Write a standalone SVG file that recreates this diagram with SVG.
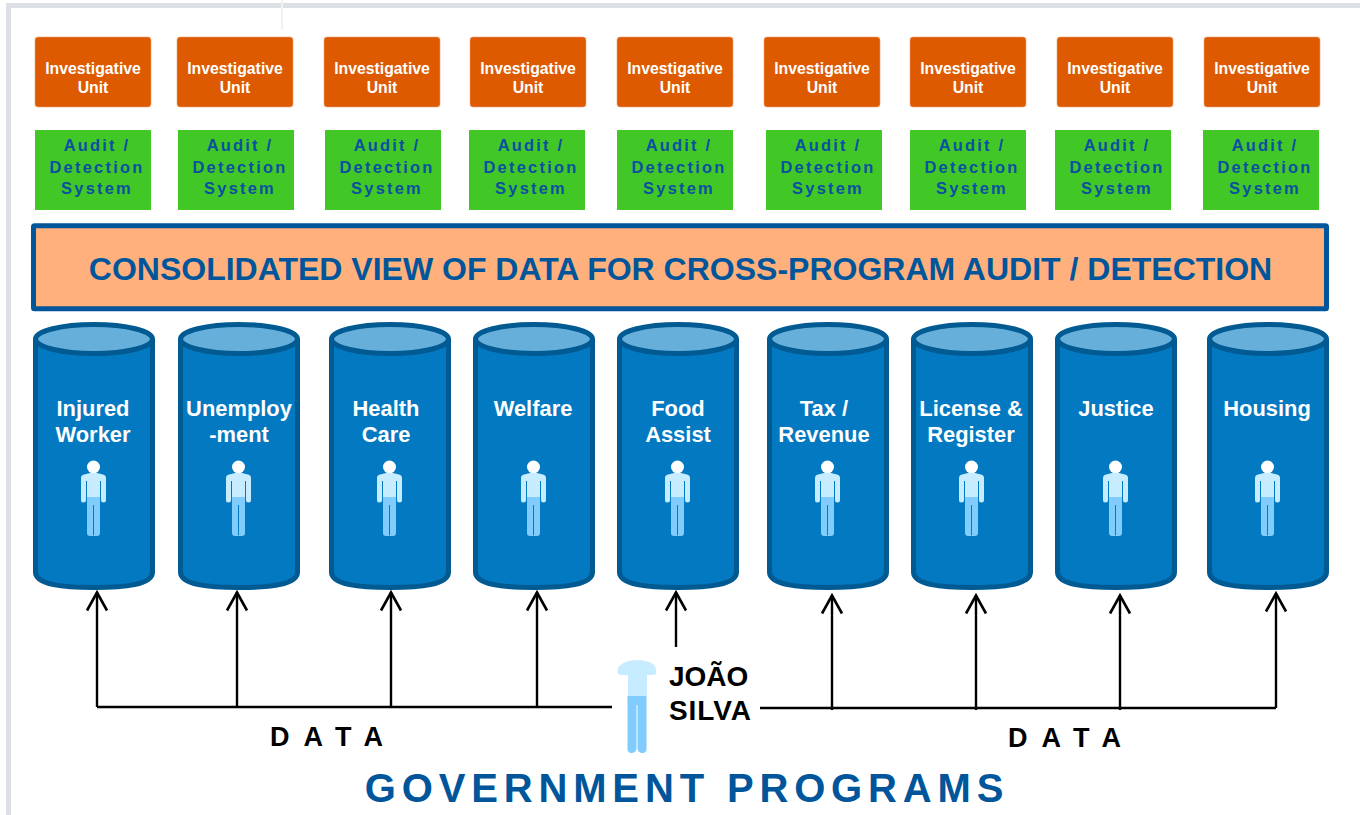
<svg xmlns="http://www.w3.org/2000/svg" width="1360" height="815" viewBox="0 0 1360 815">
<style>
text{font-family:"Liberation Sans",Arial,sans-serif;font-weight:700;text-anchor:middle}
.inv{fill:#dd5a00;stroke:#f0a070;stroke-width:.6}
.invt{fill:#fff;font-size:15.8px}
.aud{fill:#41c827}
.audt{fill:#0b50a0;font-size:16.5px;letter-spacing:2.2px}
.cylb{fill:#0379c1;stroke:#015a92;stroke-width:5}
.cylt{fill:#66afdb;stroke:#015a92;stroke-width:5}
.cylx{fill:#fff;font-size:21.9px}
.con{fill:none;stroke:#000;stroke-width:2.4}
.dat{fill:#000;font-size:27px;text-anchor:start;letter-spacing:14px}
.jo{fill:#000;font-size:28px;text-anchor:start}
</style>
<defs>
<g id="person">
<circle cx="0" cy="-66" r="6.5" fill="#fff"/>
<path d="M-12.500-55q0-3 3-3.500l6-1.500h7l6 1.500q3 .5 3 3.500v22a2.500 2.500 0 0 1-5 0v-19h-1v16h-13v-16h-1v19a2.500 2.500 0 0 1-5 0z" fill="#c8ecff"/>
<path d="M-6.500-36h13v36a3 3 0 0 1-3 3h-2a2.500 2.500 0 0 1-1.500-.5a2.500 2.500 0 0 1-1.500.5h-2a3 3 0 0 1-3-3z" fill="#80ccfc"/>
<path d="M0-28v30" stroke="#0379c1" stroke-width="1"/>
</g>
<g id="cyl">
<path class="cylb" d="M-58.500 17V250C-58.500 263-30 265.500 0 265.500S58.500 263 58.500 250V17"/>
<ellipse class="cylt" cx="0" cy="17" rx="58.500" ry="14.500"/>
</g>
<marker id="ah" markerUnits="userSpaceOnUse" markerWidth="24" markerHeight="22" refX="11" refY="1.500" orient="0" overflow="visible">
<path d="M1 20L11 2L21 20" fill="none" stroke="#000" stroke-width="2.600"/>
</marker>
</defs>
<rect width="1360" height="815" fill="#fff"/>
<path d="M1360 5.500H8.500V815" fill="none" stroke="#dde1e5" stroke-width="5"/>
<path d="M282 0V30" stroke="#f1f2f4" stroke-width="2" fill="none"/>

<g id="inv1"><rect class="inv" x="35" y="37" width="116" height="70" rx="3"/><text class="invt" x="93" y="74">Investigative</text><text class="invt" x="93" y="93">Unit</text></g>
<g id="inv2"><rect class="inv" x="177" y="37" width="116" height="70" rx="3"/><text class="invt" x="235" y="74">Investigative</text><text class="invt" x="235" y="93">Unit</text></g>
<g id="inv3"><rect class="inv" x="324" y="37" width="116" height="70" rx="3"/><text class="invt" x="382" y="74">Investigative</text><text class="invt" x="382" y="93">Unit</text></g>
<g id="inv4"><rect class="inv" x="470" y="37" width="116" height="70" rx="3"/><text class="invt" x="528" y="74">Investigative</text><text class="invt" x="528" y="93">Unit</text></g>
<g id="inv5"><rect class="inv" x="617" y="37" width="116" height="70" rx="3"/><text class="invt" x="675" y="74">Investigative</text><text class="invt" x="675" y="93">Unit</text></g>
<g id="inv6"><rect class="inv" x="764" y="37" width="116" height="70" rx="3"/><text class="invt" x="822" y="74">Investigative</text><text class="invt" x="822" y="93">Unit</text></g>
<g id="inv7"><rect class="inv" x="910" y="37" width="116" height="70" rx="3"/><text class="invt" x="968" y="74">Investigative</text><text class="invt" x="968" y="93">Unit</text></g>
<g id="inv8"><rect class="inv" x="1057" y="37" width="116" height="70" rx="3"/><text class="invt" x="1115" y="74">Investigative</text><text class="invt" x="1115" y="93">Unit</text></g>
<g id="inv9"><rect class="inv" x="1204" y="37" width="116" height="70" rx="3"/><text class="invt" x="1262" y="74">Investigative</text><text class="invt" x="1262" y="93">Unit</text></g>

<g id="aud1"><rect class="aud" x="35" y="130" width="116" height="80"/><text class="audt" x="97" y="151">Audit /</text><text class="audt" x="97" y="172.500">Detection</text><text class="audt" x="97" y="193.500">System</text></g>
<g id="aud2"><rect class="aud" x="178" y="130" width="116" height="80"/><text class="audt" x="240" y="151">Audit /</text><text class="audt" x="240" y="172.500">Detection</text><text class="audt" x="240" y="193.500">System</text></g>
<g id="aud3"><rect class="aud" x="325" y="130" width="116" height="80"/><text class="audt" x="387" y="151">Audit /</text><text class="audt" x="387" y="172.500">Detection</text><text class="audt" x="387" y="193.500">System</text></g>
<g id="aud4"><rect class="aud" x="469" y="130" width="116" height="80"/><text class="audt" x="531" y="151">Audit /</text><text class="audt" x="531" y="172.500">Detection</text><text class="audt" x="531" y="193.500">System</text></g>
<g id="aud5"><rect class="aud" x="617" y="130" width="116" height="80"/><text class="audt" x="679" y="151">Audit /</text><text class="audt" x="679" y="172.500">Detection</text><text class="audt" x="679" y="193.500">System</text></g>
<g id="aud6"><rect class="aud" x="766" y="130" width="116" height="80"/><text class="audt" x="828" y="151">Audit /</text><text class="audt" x="828" y="172.500">Detection</text><text class="audt" x="828" y="193.500">System</text></g>
<g id="aud7"><rect class="aud" x="910" y="130" width="116" height="80"/><text class="audt" x="972" y="151">Audit /</text><text class="audt" x="972" y="172.500">Detection</text><text class="audt" x="972" y="193.500">System</text></g>
<g id="aud8"><rect class="aud" x="1055" y="130" width="116" height="80"/><text class="audt" x="1117" y="151">Audit /</text><text class="audt" x="1117" y="172.500">Detection</text><text class="audt" x="1117" y="193.500">System</text></g>
<g id="aud9"><rect class="aud" x="1203" y="130" width="116" height="80"/><text class="audt" x="1265" y="151">Audit /</text><text class="audt" x="1265" y="172.500">Detection</text><text class="audt" x="1265" y="193.500">System</text></g>

<g id="consolidated"><rect x="33.500" y="225.700" width="1293" height="83" fill="#ffb07c" stroke="#01569b" stroke-width="5" rx="1"/><text x="680.500" y="280" fill="#01569b" style="font-size:32px">CONSOLIDATED VIEW OF DATA FOR CROSS-PROGRAM AUDIT / DETECTION</text></g>

<g id="cyl1"><use href="#cyl" x="94" y="322"/><text class="cylx" x="93" y="416">Injured</text><text class="cylx" x="93" y="442">Worker</text><use href="#person" x="93.500" y="533"/></g>
<g id="cyl2"><use href="#cyl" x="239" y="322"/><text class="cylx" x="239" y="416">Unemploy</text><text class="cylx" x="239" y="442">-ment</text><use href="#person" x="238.500" y="533"/></g>
<g id="cyl3"><use href="#cyl" x="390" y="322"/><text class="cylx" x="386" y="416">Health</text><text class="cylx" x="386" y="442">Care</text><use href="#person" x="389.500" y="533"/></g>
<g id="cyl4"><use href="#cyl" x="534" y="322"/><text class="cylx" x="533" y="416">Welfare</text><use href="#person" x="533.500" y="533"/></g>
<g id="cyl5"><use href="#cyl" x="678" y="322"/><text class="cylx" x="678" y="416">Food</text><text class="cylx" x="678" y="442">Assist</text><use href="#person" x="677.500" y="533"/></g>
<g id="cyl6"><use href="#cyl" x="828" y="322"/><text class="cylx" x="824" y="416">Tax /</text><text class="cylx" x="824" y="442">Revenue</text><use href="#person" x="827.500" y="533"/></g>
<g id="cyl7"><use href="#cyl" x="972" y="322"/><text class="cylx" x="971" y="416">License &amp;</text><text class="cylx" x="971" y="442">Register</text><use href="#person" x="971.500" y="533"/></g>
<g id="cyl8"><use href="#cyl" x="1116" y="322"/><text class="cylx" x="1116" y="416">Justice</text><use href="#person" x="1115.500" y="533"/></g>
<g id="cyl9"><use href="#cyl" x="1268" y="322"/><text class="cylx" x="1267" y="416">Housing</text><use href="#person" x="1267.500" y="533"/></g>

<g id="connectors">
<path class="con" d="M97 707H612"/>
<path class="con" d="M760 708H1276"/>
<path class="con" marker-end="url(#ah)" d="M97 707V592"/>
<path class="con" marker-end="url(#ah)" d="M237 707V592"/>
<path class="con" marker-end="url(#ah)" d="M391 707V592"/>
<path class="con" marker-end="url(#ah)" d="M537 707V592"/>
<path class="con" marker-end="url(#ah)" d="M676 647V592"/>
<path class="con" marker-end="url(#ah)" d="M832 710V595"/>
<path class="con" marker-end="url(#ah)" d="M976 710V595"/>
<path class="con" marker-end="url(#ah)" d="M1120 710V595"/>
<path class="con" marker-end="url(#ah)" d="M1276 708V593"/>
</g>

<g id="joao">
<path d="M617.500 673v-3q0-3 3-5q3-3 8-4q4-1 8.500-1t9 1q5 1 8 4q2 2 2 5v3q0 2-3 2h-6v21h-19v-21h-6q-4 0-4-2z" fill="#c8ecff"/>
<path d="M627.500 696h19v53q0 4-4 4t-5-4v-44h-1v44q-1 4-5 4t-4-4z" fill="#80ccfc"/>
<text class="jo" x="669" y="686">JOÃO</text>
<text class="jo" x="669" y="720" style="letter-spacing:.9px">SILVA</text>
</g>
<text class="dat" x="270" y="746">DATA</text>
<text class="dat" x="1008" y="747">DATA</text>
<text x="687" y="802" fill="#01569b" style="font-size:40px;letter-spacing:5.850px">GOVERNMENT PROGRAMS</text>
</svg>
